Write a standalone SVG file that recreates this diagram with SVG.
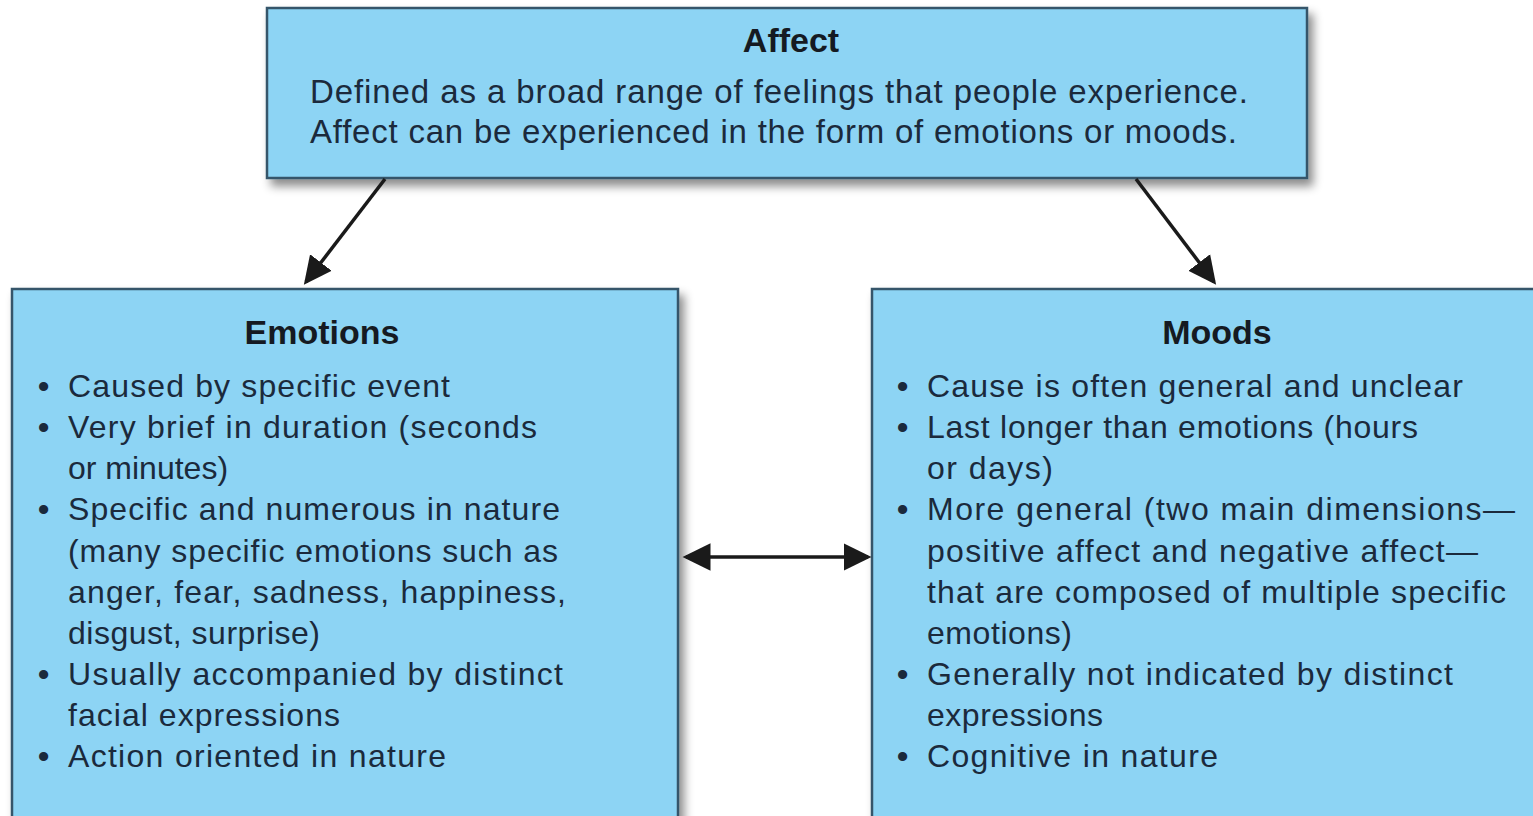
<svg xmlns="http://www.w3.org/2000/svg" width="1533" height="816" viewBox="0 0 1533 816">
  <defs>
    <filter id="shadow" x="-5%" y="-10%" width="115%" height="130%">
      <feDropShadow dx="5" dy="7" stdDeviation="5" flood-color="#000" flood-opacity="0.45"/>
    </filter>
    <marker id="head" markerWidth="9" markerHeight="9" refX="7" refY="4.5" orient="auto-start-reverse" markerUnits="strokeWidth">
      <path d="M0,0.6 L8,4.5 L0,8.4 Z" fill="#1a1a1a"/>
    </marker>
    <style>
      .box { fill: #8dd4f4; stroke: #34556a; stroke-width: 2.5; }
      .title { font-family: "Liberation Sans", Arial, sans-serif; font-weight: bold; font-size: 34px; fill: #151a22; text-anchor: middle; }
      .body { font-family: "Liberation Sans", Arial, sans-serif; font-size: 32px; fill: #1b2a3c; }
      .lead { font-family: "Liberation Sans", Arial, sans-serif; font-size: 33px; fill: #1b2a3c; }
      .bullet { font-family: "Liberation Sans", Arial, sans-serif; font-size: 32px; font-weight: bold; fill: #1b2a3c; }
      .conn { stroke: #1a1a1a; stroke-width: 3.5; fill: none; marker-end: url(#head); }
    </style>
  </defs>

  <rect width="1533" height="816" fill="#ffffff"/>

  <!-- top node: Affect -->
  <g id="affect">
    <rect class="box" x="267" y="8" width="1040" height="170" filter="url(#shadow)"/>
    <text class="title" x="791" y="52">Affect</text>
    <text class="lead" x="310" y="103" textLength="938">Defined as a broad range of feelings that people experience.</text>
    <text class="lead" x="310" y="143" textLength="927">Affect can be experienced in the form of emotions or moods.</text>
  </g>

  <!-- left node: Emotions -->
  <g id="emotions">
    <rect class="box" x="12" y="289" width="666" height="560" filter="url(#shadow)"/>
    <text class="title" x="322" y="344">Emotions</text>
    <g class="bullet">
      <text x="38" y="397">•</text>
      <text x="38" y="438">•</text>
      <text x="38" y="520">•</text>
      <text x="38" y="685">•</text>
      <text x="38" y="767">•</text>
    </g>
    <g class="body">
      <text x="68" y="397" textLength="382">Caused by specific event</text>
      <text x="68" y="438" textLength="469">Very brief in duration (seconds</text>
      <text x="68" y="479">or minutes)</text>
      <text x="68" y="520" textLength="492">Specific and numerous in nature</text>
      <text x="68" y="562" textLength="490">(many specific emotions such as</text>
      <text x="68" y="603" textLength="498">anger, fear, sadness, happiness,</text>
      <text x="68" y="644" textLength="252">disgust, surprise)</text>
      <text x="68" y="685" textLength="495">Usually accompanied by distinct</text>
      <text x="68" y="726" textLength="272">facial expressions</text>
      <text x="68" y="767" textLength="378">Action oriented in nature</text>
    </g>
  </g>

  <!-- right node: Moods -->
  <g id="moods">
    <rect class="box" x="872" y="289" width="700" height="560" filter="url(#shadow)"/>
    <text class="title" x="1217" y="344">Moods</text>
    <g class="bullet">
      <text x="897" y="397">•</text>
      <text x="897" y="438">•</text>
      <text x="897" y="520">•</text>
      <text x="897" y="685">•</text>
      <text x="897" y="767">•</text>
    </g>
    <g class="body">
      <text x="927" y="397" textLength="536">Cause is often general and unclear</text>
      <text x="927" y="438" textLength="491">Last longer than emotions (hours</text>
      <text x="927" y="479" textLength="126">or days)</text>
      <text x="927" y="520" textLength="588">More general (two main dimensions—</text>
      <text x="927" y="562" textLength="551">positive affect and negative affect—</text>
      <text x="927" y="603" textLength="579">that are composed of multiple specific</text>
      <text x="927" y="644" textLength="145">emotions)</text>
      <text x="927" y="685" textLength="526">Generally not indicated by distinct</text>
      <text x="927" y="726" textLength="176">expressions</text>
      <text x="927" y="767" textLength="291">Cognitive in nature</text>
    </g>
  </g>

  <!-- connectors -->
  <g id="connectors">
    <line class="conn" x1="385" y1="179" x2="306" y2="282"/>
    <line class="conn" x1="1136" y1="179" x2="1214" y2="282"/>
    <line class="conn" x1="686" y1="557" x2="868" y2="557" style="marker-start:url(#head)"/>
  </g>
</svg>
